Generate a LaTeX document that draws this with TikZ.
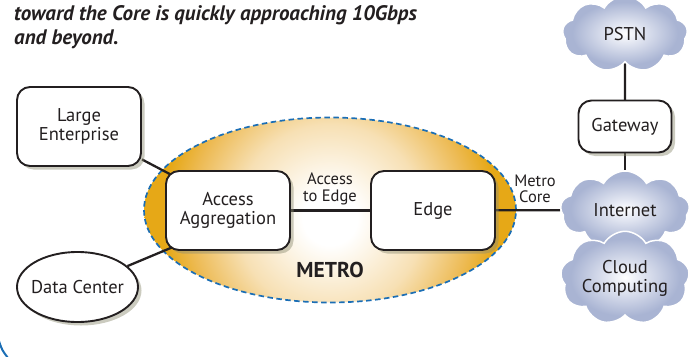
\documentclass[tikz,border=0pt]{standalone}
\usepackage{fontspec}
\setmainfont{PT Sans}
\usetikzlibrary{shapes.symbols,shapes.geometric,shadows,calc}
\definecolor{ink}{HTML}{231F20}
\definecolor{metroor}{HTML}{E6A817}
\definecolor{metromid}{HTML}{EDBB55}
\definecolor{metrolight}{HTML}{F7E0B4}
\definecolor{dashblue}{HTML}{1B6EB5}
\definecolor{cloudA}{HTML}{E9ECF5}
\definecolor{cloudB}{HTML}{A9B4D3}
\definecolor{shadowc}{HTML}{8C8C72}
\pgfdeclareradialshading{metroshade}{\pgfpoint{0bp}{0bp}}{color(0bp)=(white); color(3.5bp)=(white); color(12bp)=(metrolight); color(18bp)=(metromid); color(21.5bp)=(metroor); color(50bp)=(metroor)}
\pgfdeclareradialshading{cloudshade}{\pgfpoint{0bp}{0bp}}{color(0bp)=(white); color(5bp)=(cloudA); color(21bp)=(cloudB); color(50bp)=(cloudB)}
\pgfdeclarelayer{bg}
\pgfdeclarelayer{lines}
\pgfsetlayers{bg,lines,main}
\tikzset{
  box/.style={draw=ink, line width=1.9pt, rounded corners=13pt, fill=white, align=center,
    text=ink, font=\fontsize{18.5}{19}\selectfont, inner sep=0pt,
    drop shadow={shadow xshift=3.5pt, shadow yshift=-3.5pt, fill=shadowc, opacity=0.45}},
  oval/.style={ellipse, draw=ink, line width=1.9pt, fill=white, align=center,
    text=ink, font=\fontsize{18.5}{19}\selectfont, inner xsep=-10pt, inner ysep=0pt,
    drop shadow={shadow xshift=3.5pt, shadow yshift=-3.5pt, fill=shadowc, opacity=0.45}},
  cloudnode/.style={cloud, cloud puffs=9, cloud puff arc=120, aspect=1.65,
    draw=white, line width=1.5pt, shade, shading=cloudshade, align=center,
    text=ink, font=\fontsize{18.5}{19}\selectfont, inner sep=0pt},
  link/.style={draw=ink, line width=2.3pt},
  lbl/.style={text=ink, align=center, font=\fontsize{16.5}{16.5}\selectfont, inner sep=0pt},
  titletext/.style={text=ink, anchor=base west, inner sep=0pt, font=\fontsize{21}{24}\selectfont\bfseries\itshape}
}
\begin{document}
\begin{tikzpicture}[x=1pt,y=-1pt]
\useasboundingbox (0,0) rectangle (693,356);
\clip (0,0) rectangle (693,356);
\begin{pgfonlayer}{bg}
\begin{scope}
\clip (330,210) ellipse [x radius=186pt, y radius=92.5pt];
\shade[shading=metroshade] (330,218) circle [radius=195pt];
\end{scope}
\node[ellipse, minimum width=372pt, minimum height=185pt,
  draw=dashblue, line width=1.7pt, dash pattern=on 5.5pt off 3.5pt, inner sep=0pt] (metro) at (330,210) {};
\end{pgfonlayer}
\node[titletext] (t1) at (14,20) {toward the Core is quickly approaching 10Gbps};
\node[titletext] (t2) at (14,44) {and beyond.};

\node[box, minimum width=124pt, minimum height=79pt] (le) at (79,126.5) {Large\\Enterprise};
\node[oval, minimum width=121pt, minimum height=70pt] (dc) at (77.5,287) {Data Center};
\node[box, minimum width=124pt, minimum height=79pt] (aa) at (228,210.5) {Access\\Aggregation};
\node[box, minimum width=124pt, minimum height=79pt] (edge) at (433,210.5) {Edge};
\node[text=ink, font=\fontsize{21.5}{22}\selectfont\bfseries] (metrolbl) at (330,270) {METRO};

\node[cloudnode, minimum width=125pt, minimum height=76pt] (pstn) at (625,34) {PSTN};
\node[box, minimum width=93pt, minimum height=52pt] (gw) at (625,126.5) {Gateway};
\node[cloudnode, minimum width=129pt, minimum height=78pt] (inet) at (625,210) {Internet};
\node[cloudnode, minimum width=128pt, minimum height=78pt] (cc) at (625,278) {Cloud\\Computing};

\node[lbl] (a2e) at (330,189) {Access\\to Edge};
\node[lbl] (mc) at (535,189) {Metro\\Core};

\begin{pgfonlayer}{lines}
\draw[link] (le) -- ($(aa.north west)+(20,12)$);
\draw[link] (dc) -- ($(aa.south west)+(20,-9)$);
\draw[link] (aa.center) -- (edge.center);
\draw[link] (edge.center) -- (inet);
\draw[link] (pstn) -- (gw.center);
\draw[link] (gw.center) -- (inet);
\end{pgfonlayer}

\draw[dashblue, line width=2pt] (-1,341) .. controls (2,350) .. (8,358);
\end{tikzpicture}
\end{document}
